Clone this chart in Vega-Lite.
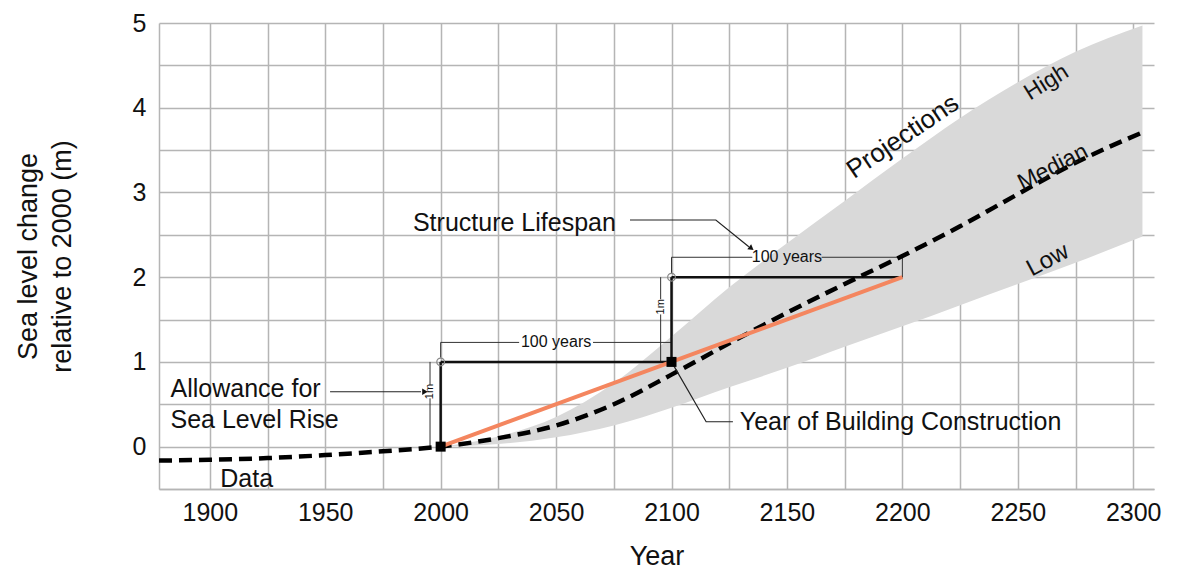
{
  "$schema": "https://vega.github.io/schema/vega-lite/v6.json",
  "width": 995,
  "height": 466,
  "autosize": "none",
  "padding": {"left": 159, "top": 23, "right": 30, "bottom": 84},
  "config": {
    "view": {"stroke": null},
    "font": "Liberation Sans",
    "axis": {
      "gridColor": "#b5b5b5", "gridWidth": 1.5, "gridOpacity": 1,
      "domainColor": "#b5b5b5", "domainWidth": 1.5,
      "ticks": false, "tickSize": 0,
      "labelFont": "Liberation Sans", "labelFontSize": 25, "labelColor": "#111",
      "titleFont": "Liberation Sans", "titleFontWeight": "normal", "titleColor": "#111"
    }
  },
  "datasets": {
    "proj": [
      {"year": 2000, "low": 0, "high": 0},
      {"year": 2025, "low": 0.03, "high": 0.12},
      {"year": 2050, "low": 0.11, "high": 0.35},
      {"year": 2075, "low": 0.25, "high": 0.75},
      {"year": 2100, "low": 0.46, "high": 1.3},
      {"year": 2125, "low": 0.7, "high": 1.88},
      {"year": 2150, "low": 0.93, "high": 2.4},
      {"year": 2175, "low": 1.18, "high": 2.9},
      {"year": 2200, "low": 1.42, "high": 3.4},
      {"year": 2225, "low": 1.67, "high": 3.88},
      {"year": 2250, "low": 1.92, "high": 4.3},
      {"year": 2275, "low": 2.17, "high": 4.66},
      {"year": 2304, "low": 2.48, "high": 4.97}
    ],
    "curve": [
      {"year": 1878, "value": -0.165},
      {"year": 1900, "value": -0.155},
      {"year": 1925, "value": -0.135},
      {"year": 1950, "value": -0.1},
      {"year": 1975, "value": -0.055},
      {"year": 2000, "value": 0},
      {"year": 2025, "value": 0.1},
      {"year": 2050, "value": 0.25},
      {"year": 2075, "value": 0.5},
      {"year": 2100, "value": 0.85},
      {"year": 2125, "value": 1.22},
      {"year": 2150, "value": 1.58},
      {"year": 2175, "value": 1.92},
      {"year": 2200, "value": 2.25},
      {"year": 2225, "value": 2.6},
      {"year": 2250, "value": 2.98},
      {"year": 2275, "value": 3.35},
      {"year": 2305, "value": 3.72}
    ],
    "allowance": [
      {"year": 2000, "value": 0},
      {"year": 2200, "value": 2}
    ],
    "frame": [
      {"x": 2000, "y": 0, "x2": 2000, "y2": 1},
      {"x": 2000, "y": 1, "x2": 2100, "y2": 1},
      {"x": 2100, "y": 1, "x2": 2100, "y2": 2},
      {"x": 2100, "y": 2, "x2": 2200, "y2": 2}
    ],
    "dims": [
      {"x": 2000, "y": 1.23, "x2": 2034, "y2": 1.23},
      {"x": 2066, "y": 1.23, "x2": 2100, "y2": 1.23},
      {"x": 2000, "y": 1.05, "x2": 2000, "y2": 1.23},
      {"x": 2100, "y": 1.12, "x2": 2100, "y2": 1.23},
      {"x": 2100, "y": 2.235, "x2": 2135, "y2": 2.235},
      {"x": 2165, "y": 2.235, "x2": 2200, "y2": 2.235},
      {"x": 2100, "y": 2.05, "x2": 2100, "y2": 2.235},
      {"x": 2200, "y": 2.0, "x2": 2200, "y2": 2.235},
      {"x": 1995.4, "y": 0, "x2": 1995.4, "y2": 0.57},
      {"x": 1995.4, "y": 0.73, "x2": 1995.4, "y2": 1},
      {"x": 2095.3, "y": 1, "x2": 2095.3, "y2": 1.56},
      {"x": 2095.3, "y": 1.74, "x2": 2095.3, "y2": 2}
    ],
    "leaders": [
      {"id": "life", "ord": 1, "year": 2082, "value": 2.675},
      {"id": "life", "ord": 2, "year": 2119.2, "value": 2.675},
      {"id": "life", "ord": 3, "year": 2133.5, "value": 2.36},
      {"id": "allow", "ord": 1, "year": 1952.1, "value": 0.648},
      {"id": "allow", "ord": 2, "year": 1991.5, "value": 0.648},
      {"id": "build", "ord": 1, "year": 2100, "value": 1.0},
      {"id": "build", "ord": 2, "year": 2115, "value": 0.294},
      {"id": "build", "ord": 3, "year": 2126.6, "value": 0.294}
    ],
    "squares": [
      {"year": 2000, "value": 0},
      {"year": 2100, "value": 1}
    ],
    "circles": [
      {"year": 2000, "value": 1},
      {"year": 2100, "value": 2}
    ],
    "bigText": [
      {"year": 1883, "value": 0.68, "label": "Allowance for"},
      {"year": 1883, "value": 0.32, "label": "Sea Level Rise"},
      {"year": 1988, "value": 2.64, "label": "Structure Lifespan"},
      {"year": 2129.6, "value": 0.29, "label": "Year of Building Construction"}
    ],
    "smallText": [
      {"year": 2050, "value": 1.23, "label": "100 years"},
      {"year": 2150, "value": 2.235, "label": "100 years"}
    ]
  },
  "encoding": {
    "x": {
      "field": "year", "type": "quantitative",
      "scale": {"domain": [1878, 2309], "nice": false, "zero": false},
      "axis": {
        "values": [1900, 1925, 1950, 1975, 2000, 2025, 2050, 2075, 2100, 2125, 2150, 2175, 2200, 2225, 2250, 2275, 2300],
        "labelExpr": "datum.value % 50 === 0 ? datum.label : ''",
        "format": "d", "labelPadding": 11,
        "title": "Year", "titleFontSize": 27, "titlePadding": 18
      }
    },
    "y": {
      "field": "value", "type": "quantitative",
      "scale": {"domain": [-0.5, 5], "nice": false, "zero": false},
      "axis": {
        "values": [-0.5, 0, 0.5, 1, 1.5, 2, 2.5, 3, 3.5, 4, 4.5, 5],
        "labelExpr": "datum.value >= 0 && datum.value % 1 === 0 ? datum.label : ''",
        "format": "~g",
        "labelPadding": 13,
        "title": ["Sea level change", "relative to 2000 (m)"],
        "titleFontSize": 27, "titleLineHeight": 34, "titlePadding": 56
      }
    }
  },
  "layer": [
    {
      "data": {"name": "proj"},
      "mark": {"type": "area", "color": "#d9d9d9", "opacity": 1, "interpolate": "monotone"},
      "encoding": {
        "y": {"field": "low", "type": "quantitative"},
        "y2": {"field": "high"}
      }
    },
    {
      "data": {"name": "dims"},
      "mark": {"type": "rule", "color": "#333", "strokeWidth": 1},
      "encoding": {
        "x": {"field": "x", "type": "quantitative"},
        "x2": {"field": "x2"},
        "y": {"field": "y", "type": "quantitative"},
        "y2": {"field": "y2"}
      }
    },
    {
      "data": {"name": "frame"},
      "mark": {"type": "rule", "color": "#111", "strokeWidth": 2.5},
      "encoding": {
        "x": {"field": "x", "type": "quantitative"},
        "x2": {"field": "x2"},
        "y": {"field": "y", "type": "quantitative"},
        "y2": {"field": "y2"}
      }
    },
    {
      "data": {"name": "curve"},
      "mark": {"type": "line", "color": "#000", "strokeWidth": 4.5, "strokeDash": [13, 7], "interpolate": "monotone"},
      "encoding": {}
    },
    {
      "data": {"name": "allowance"},
      "mark": {"type": "line", "color": "#f4865f", "strokeWidth": 4},
      "encoding": {}
    },
    {
      "data": {"name": "leaders"},
      "mark": {"type": "line", "color": "#222", "strokeWidth": 1.2},
      "encoding": {
        "detail": {"field": "id"},
        "order": {"field": "ord", "type": "quantitative"}
      }
    },
    {
      "data": {"values": [{"year": 1993.2, "value": 0.648}]},
      "mark": {"type": "point", "shape": "triangle-right", "filled": true, "color": "#111", "size": 40, "opacity": 1},
      "encoding": {}
    },
    {
      "data": {"values": [{"year": 2134.6, "value": 2.34}]},
      "mark": {"type": "point", "shape": "triangle-right", "filled": true, "color": "#111", "size": 40, "angle": 38, "opacity": 1},
      "encoding": {}
    },
    {
      "data": {"name": "squares"},
      "mark": {"type": "point", "shape": "square", "filled": true, "color": "#000", "size": 100, "opacity": 1},
      "encoding": {}
    },
    {
      "data": {"name": "circles"},
      "mark": {"type": "point", "shape": "circle", "filled": false, "color": "#888", "strokeWidth": 1.2, "size": 60, "opacity": 1},
      "encoding": {}
    },
    {
      "data": {"name": "bigText"},
      "mark": {"type": "text", "fontSize": 25, "align": "left", "baseline": "middle", "color": "#111"},
      "encoding": {"text": {"field": "label"}}
    },
    {
      "data": {"name": "smallText"},
      "mark": {"type": "text", "fontSize": 16, "align": "center", "baseline": "middle", "color": "#111"},
      "encoding": {"text": {"field": "label"}}
    },
    {
      "data": {"values": [{"year": 1995.4, "value": 0.65, "label": "1m"}, {"year": 2095.3, "value": 1.65, "label": "1m"}]},
      "mark": {"type": "text", "fontSize": 11, "align": "center", "baseline": "middle", "angle": 270, "color": "#111"},
      "encoding": {"text": {"field": "label"}}
    },
    {
      "data": {"values": [{"year": 1916, "value": -0.38, "label": "Data"}]},
      "mark": {"type": "text", "fontSize": 25, "align": "center", "baseline": "middle", "color": "#111"},
      "encoding": {"text": {"field": "label"}}
    },
    {
      "data": {"values": [{"year": 2200.2, "value": 3.66, "label": "Projections"}]},
      "mark": {"type": "text", "fontSize": 26, "align": "center", "baseline": "middle", "angle": 326, "color": "#111"},
      "encoding": {"text": {"field": "label"}}
    },
    {
      "data": {"values": [{"year": 2262.4, "value": 4.3, "label": "High"}]},
      "mark": {"type": "text", "fontSize": 23, "align": "center", "baseline": "middle", "angle": 328, "color": "#111"},
      "encoding": {"text": {"field": "label"}}
    },
    {
      "data": {"values": [{"year": 2265.2, "value": 3.3, "label": "Median"}]},
      "mark": {"type": "text", "fontSize": 23, "align": "center", "baseline": "middle", "angle": 333, "color": "#111"},
      "encoding": {"text": {"field": "label"}}
    },
    {
      "data": {"values": [{"year": 2263, "value": 2.2, "label": "Low"}]},
      "mark": {"type": "text", "fontSize": 24, "align": "center", "baseline": "middle", "angle": 332, "color": "#111"},
      "encoding": {"text": {"field": "label"}}
    }
  ]
}
